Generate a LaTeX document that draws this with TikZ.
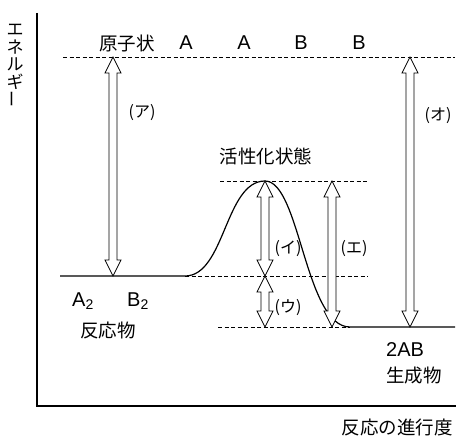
\documentclass[tikz,border=0pt]{standalone}
\usepackage{fontspec}
\setmainfont{Liberation Sans}
\newfontfamily\jp{Noto Sans CJK JP}
\usetikzlibrary{calc}

\tikzset{
  axis/.style={line width=1.4pt},
  level/.style={line width=1.2pt},
  guide/.style={dash pattern=on 4pt off 2.5pt, line width=0.6pt},
  fat/.style={draw, line width=0.7pt, fill=white},
  lbl/.style={font=\jp\fontsize{18.5}{18.5}\selectfont, inner sep=0pt},
  sym/.style={font=\fontsize{20}{20}\selectfont, inner sep=0pt},
  tag/.style={font=\jp\fontsize{16}{16}\selectfont, inner sep=0pt}
}

% hollow double-headed arrow, from top point #1 to bottom point #2
\newcommand{\fatarrow}[2]{%
  \path[fat] let \p1=(#1), \p2=(#2) in
    (\x1,\y1) -- (\x1+8pt,\y1-16pt) -- (\x1+4pt,\y1-16pt) -- (\x1+4pt,\y2+16pt)
    -- (\x1+8pt,\y2+16pt) -- (\x1,\y2) -- (\x1-8pt,\y2+16pt) -- (\x1-4pt,\y2+16pt)
    -- (\x1-4pt,\y1-16pt) -- (\x1-8pt,\y1-16pt) -- cycle;}

\begin{document}
\begin{tikzpicture}[x=1pt, y=-1pt]
  \useasboundingbox (0,0) rectangle (458,436);

  % axes
  \coordinate (ytop) at (37,13);
  \coordinate (origin) at (37,406);
  \coordinate (xend) at (456,406);
  \draw[axis] (ytop) -- (origin) -- (xend);

  \node[lbl, align=center, font=\jp\fontsize{17}{17.5}\selectfont] (energy) at (15,66)
    {エ\\ネ\\ル\\ギ\\\rotatebox{90}{ー}};
  \node[lbl, anchor=east] (progress) at (453,427) {反応の進行度};

  % levels
  \coordinate (atomL) at (63,57);
  \coordinate (atomR) at (455,57);
  \coordinate (reacL) at (60,276);
  \coordinate (reacE) at (185,276);
  \coordinate (reacR) at (368,276);
  \coordinate (peakL) at (220,181);
  \coordinate (peak) at (265,181);
  \coordinate (peakR) at (368,181);
  \coordinate (prodL) at (218,327);
  \coordinate (prodS) at (350,327);
  \coordinate (prodR) at (455,327);

  \draw[level] (reacL) -- (reacE) .. controls (225,276) and (225,181) .. (peak)
    .. controls (300,181) and (305,327) .. (prodS) -- (prodR);

  \draw[guide] (atomL) -- (atomR);
  \draw[guide] (peakL) -- (peakR);
  \draw[guide] (reacE) -- (reacR);
  \draw[guide] (prodL) -- (prodS);

  % energy differences
  \coordinate (aTop) at (113,57);
  \coordinate (aBot) at (113,276);
  \coordinate (iTop) at (265,181);
  \coordinate (iBot) at (265,276);
  \coordinate (uBot) at (265,327);
  \coordinate (eTop) at (332,181);
  \coordinate (eBot) at (332,327);
  \coordinate (oTop) at (410,57);
  \coordinate (oBot) at (410,327);
  \fatarrow{aTop}{aBot}
  \fatarrow{iTop}{iBot}
  \fatarrow{iBot}{uBot}
  \fatarrow{eTop}{eBot}
  \fatarrow{oTop}{oBot}

  \node[tag] (tagA) at (142,113) {(ア)};
  \node[tag] (tagI) at (288,249) {(イ)};
  \node[tag] (tagU) at (288,308) {(ウ)};
  \node[tag] (tagE) at (354,249) {(エ)};
  \node[tag] (tagO) at (438,116) {(オ)};

  % labels
  \node[lbl] (atomic) at (127,43) {原子状};
  \node[sym] (at1) at (186,43) {A};
  \node[sym] (at2) at (244,43) {A};
  \node[sym] (at3) at (301,43) {B};
  \node[sym] (at4) at (359,43) {B};
  \node[lbl] (active) at (266,156) {活性化状態};
  \node[sym, anchor=west] (rA) at (72,301) {A\textsubscript{2}};
  \node[sym, anchor=west] (rB) at (127,301) {B\textsubscript{2}};
  \node[lbl] (reactant) at (108,330) {反応物};
  \node[sym, anchor=west] (pAB) at (386,350) {2AB};
  \node[lbl, anchor=west] (product) at (386,376) {生成物};
\end{tikzpicture}
\end{document}
